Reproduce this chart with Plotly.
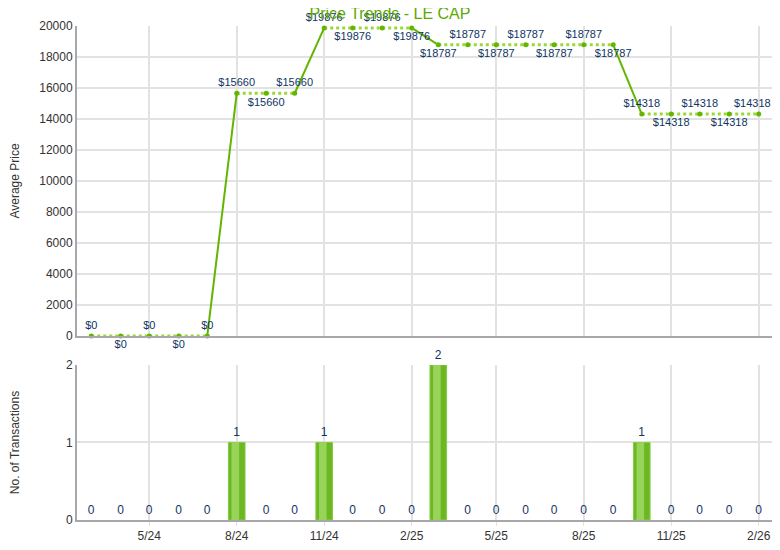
import plotly.graph_objects as go
from plotly.subplots import make_subplots

# 월별 데이터 (3/24 ~ 2/26)
months = ["2024-03-01", "2024-04-01", "2024-05-01", "2024-06-01", "2024-07-01",
          "2024-08-01", "2024-09-01", "2024-10-01", "2024-11-01", "2024-12-01",
          "2025-01-01", "2025-02-01", "2025-03-01", "2025-04-01", "2025-05-01",
          "2025-06-01", "2025-07-01", "2025-08-01", "2025-09-01", "2025-10-01",
          "2025-11-01", "2025-12-01", "2026-01-01", "2026-02-01"]
avg_price = [0, 0, 0, 0, 0,
             15660, 15660, 15660, 19876, 19876,
             19876, 19876, 18787, 18787, 18787,
             18787, 18787, 18787, 18787, 14318,
             14318, 14318, 14318, 14318]
transactions = [0, 0, 0, 0, 0,
                1, 0, 0, 1, 0,
                0, 0, 2, 0, 0,
                0, 0, 0, 0, 1,
                0, 0, 0, 0]

tick_vals = ["2024-05-01", "2024-08-01", "2024-11-01", "2025-02-01",
             "2025-05-01", "2025-08-01", "2025-11-01", "2026-02-01"]
tick_text = ["5/24", "8/24", "11/24", "2/25", "5/25", "8/25", "11/25", "2/26"]

# 라벨 위/아래 배치 (참조 이미지 그대로)
label_pos = ["top", "bottom", "top", "bottom", "top",
             "top", "bottom", "top", "top", "bottom",
             "top", "bottom", "bottom", "top", "bottom",
             "top", "bottom", "top", "bottom", "top",
             "bottom", "top", "bottom", "top"]

FONT = "Liberation Sans, Arial, sans-serif"
GREEN = "#62b500"
LIGHT = "#9ad83a"
LABEL = "#0f3563"
GRID = "#e2e2e2"
DAY_MS = 1000 * 3600 * 24

# 값이 바뀌는 구간 = 실선, 같은 값 구간 = 점선
solid_x, solid_y, dot_x, dot_y = [], [], [], []
for i in range(len(months) - 1):
    seg_x = [months[i], months[i + 1], None]
    seg_y = [avg_price[i], avg_price[i + 1], None]
    if avg_price[i] == avg_price[i + 1]:
        dot_x += seg_x; dot_y += seg_y
    else:
        solid_x += seg_x; solid_y += seg_y

# 마지막 라벨은 오른쪽 끝에서 잘리지 않게 주석으로 따로 배치
price_text = [f"${v}" for v in avg_price]
last_text = price_text[-1]
price_text[-1] = ""

fig = make_subplots(rows=2, cols=1, shared_xaxes=True)

fig.add_trace(go.Scatter(x=dot_x, y=dot_y, mode="lines",
                         line=dict(color=LIGHT, width=3, dash="dot"),
                         hoverinfo="skip"), row=1, col=1)
fig.add_trace(go.Scatter(x=solid_x, y=solid_y, mode="lines",
                         line=dict(color=GREEN, width=2),
                         hoverinfo="skip"), row=1, col=1)
fig.add_trace(go.Scatter(
    x=months, y=avg_price, mode="markers+text",
    marker=dict(color=GREEN, size=5),
    text=price_text, textposition=[f"{p} center" for p in label_pos],
    textfont=dict(family=FONT, size=11, color=LABEL), cliponaxis=False), row=1, col=1)
fig.add_annotation(x=months[-1], y=avg_price[-1], xref="x", yref="y",
                   text=last_text, showarrow=False, xshift=-6, yshift=3,
                   yanchor="bottom", font=dict(family=FONT, size=11, color=LABEL))

# 막대: 진한 바탕 + 밝은 하이라이트(그라데이션 흉내)
fig.add_trace(go.Bar(
    x=months, y=transactions, width=DAY_MS * 17.5,
    marker=dict(color="#6cb824",
                line=dict(color="#86cc40", width=[1 if v else 0 for v in transactions])),
    text=[str(v) for v in transactions], textposition="outside",
    textfont=dict(family=FONT, size=12, color=LABEL), cliponaxis=False), row=2, col=1)
fig.add_trace(go.Bar(
    x=months, y=transactions, width=DAY_MS * 8, offset=-DAY_MS * 5.5,
    marker=dict(color="#98d35a", line=dict(width=0)), hoverinfo="skip"), row=2, col=1)

xaxis_common = dict(type="date", range=["2024-02-15", "2026-02-15"],
                    tickvals=tick_vals, showgrid=True, gridcolor=GRID, gridwidth=2,
                    showline=True, linecolor="#a8a8a8", linewidth=2, zeroline=False,
                    automargin=False)
fig.update_xaxes(**xaxis_common, showticklabels=False, row=1, col=1)
fig.update_xaxes(**xaxis_common, ticktext=tick_text, ticks="outside", ticklen=4,
                 tickcolor=GRID, row=2, col=1)

fig.update_yaxes(range=[0, 20000], tickvals=list(range(0, 20001, 2000)), tickformat="d",
                 showgrid=True, gridcolor=GRID, gridwidth=1.5, zeroline=False,
                 showline=True, linecolor="#a8a8a8", linewidth=2, automargin=False,
                 title=dict(text="Average Price", font=dict(family=FONT, size=12, color="#333"),
                            standoff=26),
                 domain=[0.3725, 1.0], row=1, col=1)
fig.update_yaxes(range=[0, 2], tickvals=[0, 1, 2],
                 showgrid=True, gridcolor=GRID, gridwidth=1.5, zeroline=False,
                 showline=True, linecolor="#a8a8a8", linewidth=2, automargin=False,
                 title=dict(text="No. of Transactions", font=dict(family=FONT, size=12, color="#333"),
                            standoff=53),
                 domain=[0.0, 0.3138], row=2, col=1)

# 페이지 body 여백(8px)을 고려한 크기/여백 (스크롤바 안 생기게)
fig.update_layout(
    width=764, height=534, showlegend=False,
    margin=dict(t=18, b=22, l=69, r=0),
    paper_bgcolor="white", plot_bgcolor="white",
    font=dict(family=FONT, size=12, color="#333"),
    title=dict(text="Price Trends - LE CAP", x=0.5, xanchor="center", y=0.989, yanchor="middle",
               font=dict(family=FONT, size=16, color="#5aaa00")),
    barmode="overlay",
)

fig.write_html("out.html")
